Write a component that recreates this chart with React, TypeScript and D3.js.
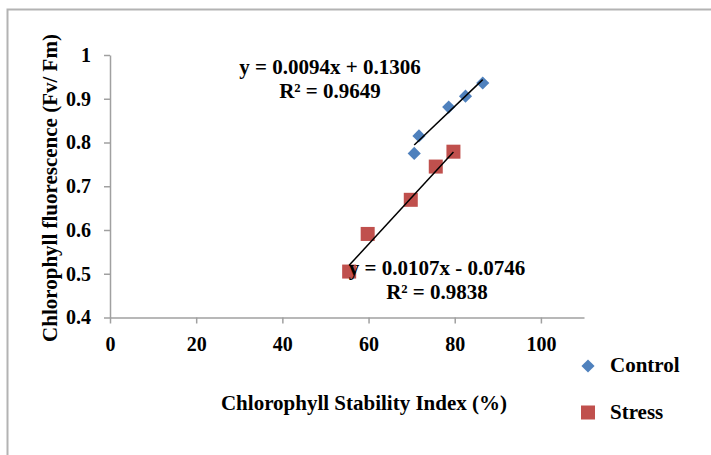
import { useEffect, useRef } from "react";
import * as d3 from "d3";

// control series (diamonds)
const controlX = [70.6, 71.7, 78.6, 82.5, 86.5];
const controlY = [0.775, 0.815, 0.881, 0.906, 0.936];
// stress series (squares)
const stressX = [55.5, 59.8, 69.8, 75.6, 79.7];
const stressY = [0.505, 0.591, 0.669, 0.745, 0.779];

const xTicks = [0, 20, 40, 60, 80, 100];
const yTicks = [0.4, 0.5, 0.6, 0.7, 0.8, 0.9, 1];
const yTickLabels = ["0.4", "0.5", "0.6", "0.7", "0.8", "0.9", "1"];

const controlFit = { slope: 0.0094, intercept: 0.1306 };
const stressFit = { slope: 0.0107, intercept: -0.0746 };
const controlEq = ["y = 0.0094x + 0.1306", "R² = 0.9649"];
const stressEq = ["y = 0.0107x - 0.0746", "R² = 0.9838"];

const seriesNames = ["Control", "Stress"];

const BLUE = "#4F81BD";
const RED = "#C0504D";
const FONT = "'Liberation Serif', 'Times New Roman', serif";

function App() {
    const svgRef = useRef<SVGSVGElement>(null);
    const width = 711, height = 455;

    useEffect(() => {
        const svg = d3.select(svgRef.current);
        svg.selectAll("*").remove();

        const x = d3.scaleLinear().domain([0, 110]).range([110, 584]);
        const y = d3.scaleLinear().domain([0.4, 1]).range([317.5, 55]);

        // outer frame of the chart area
        svg.append("rect")
            .attr("x", 7.5).attr("y", 9.5)
            .attr("width", 720).attr("height", 460)
            .attr("fill", "none")
            .attr("stroke", "#b3b3b3")
            .attr("stroke-width", 2);

        const styleAxis = (g: any) => {
            g.select(".domain").attr("stroke", "#a0a0a0").attr("stroke-width", 1.5);
            g.selectAll(".tick line").attr("stroke", "#a0a0a0").attr("stroke-width", 1.5);
            g.selectAll(".tick text")
                .attr("fill", "#000")
                .style("font-family", FONT)
                .style("font-weight", "bold")
                .style("font-size", "20px");
        };

        svg.append("g")
            .attr("transform", `translate(0, ${y(0.4)})`)
            .call(d3.axisBottom(x).tickValues(xTicks).tickSize(6).tickSizeOuter(0).tickPadding(13))
            .call(styleAxis);

        svg.append("g")
            .attr("transform", `translate(${x(0)}, 0)`)
            .call(d3.axisLeft(y).tickValues(yTicks).tickSize(6).tickSizeOuter(0).tickPadding(13)
                .tickFormat((d, i) => yTickLabels[i]))
            .call(styleAxis);

        // markers
        const control = controlX.map((v, i) => ({ x: v, y: controlY[i] }));
        const stress = stressX.map((v, i) => ({ x: v, y: stressY[i] }));

        svg.append("g").selectAll("rect")
            .data(stress).enter().append("rect")
            .attr("x", d => x(d.x) - 7)
            .attr("y", d => y(d.y) - 7)
            .attr("width", 14).attr("height", 14)
            .attr("fill", RED);

        const diamond = d3.symbol().type(d3.symbolDiamond2).size(110);
        svg.append("g").selectAll("path")
            .data(control).enter().append("path")
            .attr("d", diamond)
            .attr("transform", d => `translate(${x(d.x)}, ${y(d.y)})`)
            .attr("fill", BLUE);

        // trend lines
        const line = d3.line<number>().x(d => x(d));
        const fits = [
            { xs: controlX, fit: controlFit },
            { xs: stressX, fit: stressFit },
        ];
        fits.forEach(({ xs, fit }) => {
            const ends = d3.extent(xs) as [number, number];
            svg.append("path")
                .attr("d", line.y(d => y(fit.slope * d + fit.intercept))(ends))
                .attr("stroke", "#000")
                .attr("stroke-width", 1.5)
                .attr("fill", "none");
        });

        // equation labels
        const eqText = (lines: string[], cx: number, by: number) => {
            lines.forEach((t, i) => {
                svg.append("text")
                    .attr("x", cx).attr("y", by + i * 23.5)
                    .attr("text-anchor", "middle")
                    .style("font-family", FONT)
                    .style("font-weight", "bold")
                    .style("font-size", "21px")
                    .text(t);
            });
        };
        eqText(controlEq, 330, 74);
        eqText(stressEq, 437, 275);

        // axis titles
        svg.append("text")
            .attr("x", 364).attr("y", 410)
            .attr("text-anchor", "middle")
            .style("font-family", FONT).style("font-weight", "bold").style("font-size", "21px")
            .text("Chlorophyll Stability Index (%)");

        svg.append("text")
            .attr("transform", "translate(57, 188) rotate(-90)")
            .attr("text-anchor", "middle")
            .style("font-family", FONT).style("font-weight", "bold").style("font-size", "21px")
            .text("Chlorophyll fluorescence (Fv/ Fm)");

        // legend
        const legend = svg.append("g");
        legend.append("path")
            .attr("d", diamond)
            .attr("transform", "translate(588, 366)")
            .attr("fill", BLUE);
        legend.append("rect")
            .attr("x", 581).attr("y", 405.5)
            .attr("width", 14).attr("height", 14)
            .attr("fill", RED);
        seriesNames.forEach((name, i) => {
            legend.append("text")
                .attr("x", 610).attr("y", 372 + i * 47)
                .style("font-family", FONT).style("font-weight", "bold").style("font-size", "21px")
                .text(name);
        });
    }, []);

    return (
        <svg ref={svgRef} width={width} height={height}
            style={{ position: "absolute", left: 0, top: 0, background: "#fff" }}></svg>
    );
}

export default App;
